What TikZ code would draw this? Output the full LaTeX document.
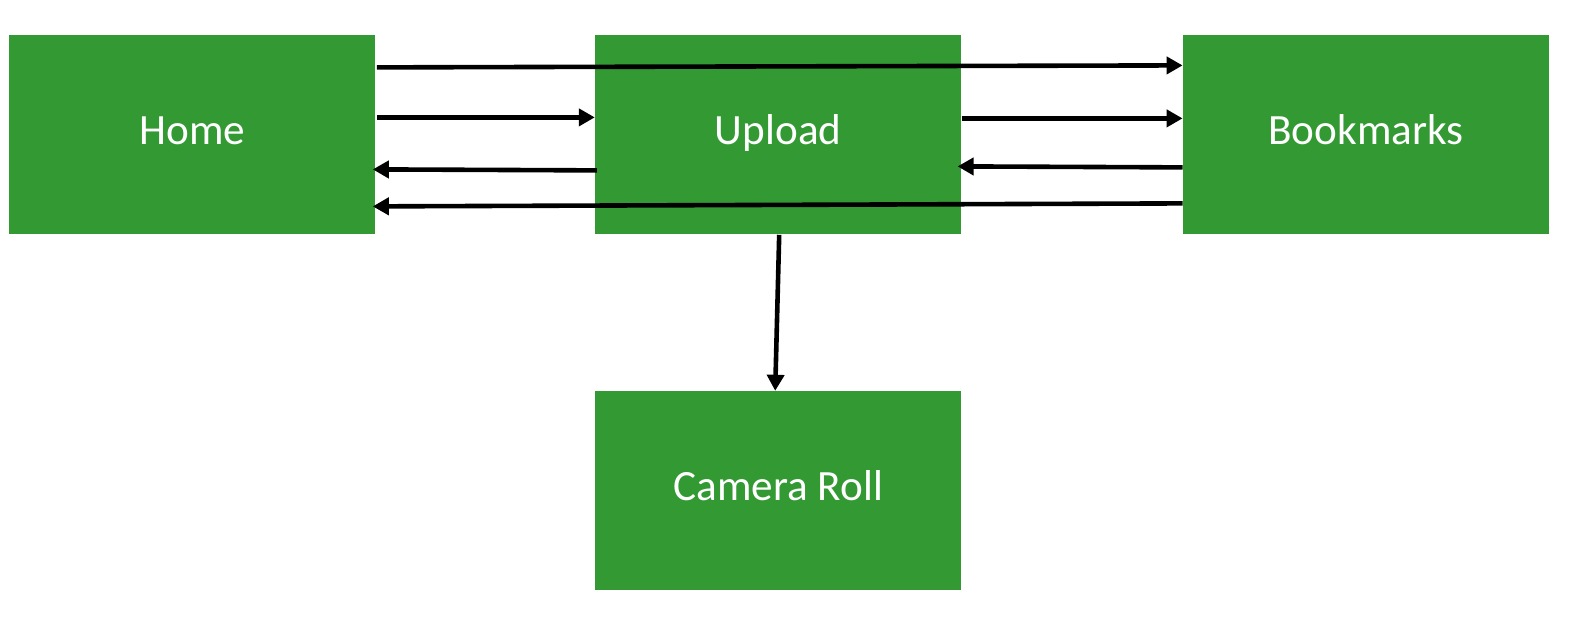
\documentclass[tikz,border=0pt]{standalone}
\usepackage{fontspec}
\setmainfont{Carlito}
\usepackage{tikz}
\usetikzlibrary{arrows.meta,positioning,calc}
\definecolor{pagegreen}{RGB}{51,153,51}

\begin{document}
\begin{tikzpicture}[
  pg/.style={rectangle, fill=pagegreen, text=white, inner sep=0pt,
    minimum width=183pt, minimum height=99.5pt, align=center,
    text height=15pt, text depth=5pt,
    font=\fontsize{21.6}{26}\selectfont},
  arr/.style={-{Triangle[length=8pt, width=8.5pt]}, black, line width=2.3pt}]
\node[pg] (home) {Home};
\node[pg, right=109.5pt of home] (upload) {Upload};
\node[pg, right=110.5pt of upload] (bookmarks) {Bookmarks};
\node[pg, below=78pt of upload] (camera) {Camera Roll};
\useasboundingbox ($(home.north west)+(-4.5pt,17.5pt)$) rectangle +(785.5pt,-309.5pt);
\draw[arr] ([shift={(0.5pt,33.75pt)}]home.east) -- ([yshift=34.75pt]bookmarks.west);
\draw[arr] ([shift={(0.5pt,8.75pt)}]home.east) -- ([yshift=8.75pt]upload.west);
\draw[arr] ([shift={(1pt,-17.75pt)}]upload.west) -- ([shift={(-1.5pt,-17.25pt)}]home.east);
\draw[arr] ([yshift=-34.25pt]bookmarks.west) -- ([shift={(-1.5pt,-35.75pt)}]home.east);
\draw[arr] ([yshift=8.25pt]upload.east) -- ([yshift=8.25pt]bookmarks.west);
\draw[arr] ([yshift=-16.25pt]bookmarks.west) -- ([shift={(-2pt,-15.75pt)}]upload.east);
\draw[arr] ([xshift=0.5pt]upload.south) -- ([xshift=-1.5pt]camera.north);
\end{tikzpicture}
\end{document}
